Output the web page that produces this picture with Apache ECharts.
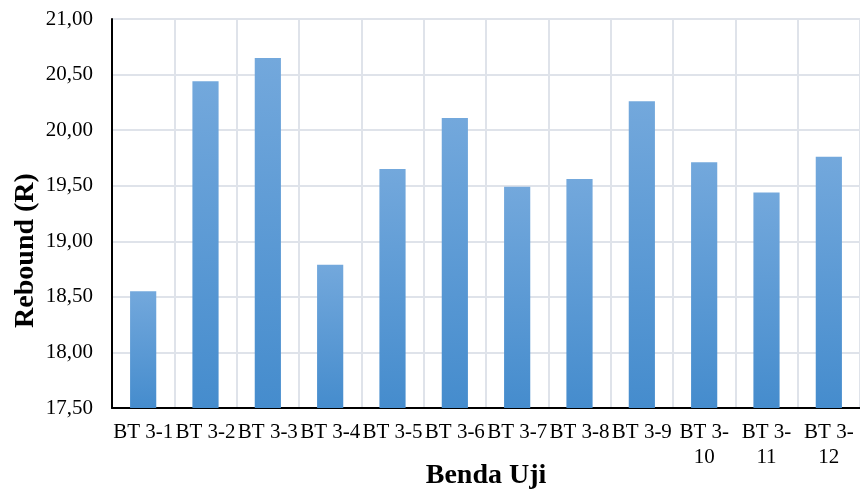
<!DOCTYPE html>
<html>
<head>
<meta charset="utf-8">
<script src="https://cdn.jsdelivr.net/npm/echarts@6/dist/echarts.min.js"></script>
<style>
  html, body { margin: 0; padding: 0; background: #fff; }
  #chart { width: 860px; height: 493px; }
</style>
</head>
<body>
<div id="chart"></div>
<script>
// Specimens tested and their rebound numbers
const categories = ['BT 3-1', 'BT 3-2', 'BT 3-3', 'BT 3-4', 'BT 3-5', 'BT 3-6',
                    'BT 3-7', 'BT 3-8', 'BT 3-9', 'BT 3-10', 'BT 3-11', 'BT 3-12'];
const rebound = [18.55, 20.44, 20.65, 18.79, 19.65, 20.11,
                 19.49, 19.56, 20.26, 19.71, 19.44, 19.76];
const yMin = 17.5, yMax = 21, yStep = 0.5;

const serif = '"Liberation Serif", "Times New Roman", serif';
const chart = echarts.init(document.getElementById('chart'), null, { renderer: 'canvas' });

chart.setOption({
  animation: false,
  grid: { left: 112, right: 0, top: 19, bottom: 85, containLabel: false, outerBoundsMode: 'none' },
  xAxis: {
    type: 'category',
    data: categories,
    name: 'Benda Uji',
    nameLocation: 'middle',
    nameGap: 54,
    nameMoveOverlap: false,
    nameTextStyle: { fontFamily: serif, fontWeight: 'bold', fontSize: 28, color: '#000' },
    axisLine: { lineStyle: { color: '#000', width: 2 } },
    axisTick: { show: false },
    axisLabel: {
      interval: 0,
      margin: 12,
      fontFamily: serif,
      fontSize: 21,
      color: '#000',
      lineHeight: 25,
      formatter: v => v.length > 6 ? v.replace('-', '-\n') : v
    },
    splitLine: { show: true, interval: 0, lineStyle: { color: '#dfe3ea', width: 2 } }
  },
  yAxis: {
    type: 'value',
    min: yMin,
    max: yMax,
    interval: yStep,
    name: 'Rebound (R)',
    nameLocation: 'middle',
    nameGap: 72,
    nameRotate: 90,
    nameMoveOverlap: false,
    nameTextStyle: {
      fontFamily: serif, fontWeight: 'bold', fontSize: 28, color: '#000',
      padding: [0, 74, 0, 0]
    },
    axisLine: { show: true, lineStyle: { color: '#000', width: 2 } },
    axisTick: { show: false },
    axisLabel: {
      margin: 19,
      fontFamily: serif,
      fontSize: 21,
      color: '#000',
      formatter: v => v.toFixed(2).replace('.', ',')
    },
    splitLine: { show: true, lineStyle: { color: '#dfe3ea', width: 2 } }
  },
  series: [{
    type: 'bar',
    data: rebound,
    barWidth: '42%',
    itemStyle: {
      color: new echarts.graphic.LinearGradient(0, 0, 0, 1, [
        { offset: 0, color: '#73a8dc' },
        { offset: 1, color: '#458ccd' }
      ], false)
    }
  }]
});
</script>
</body>
</html>
